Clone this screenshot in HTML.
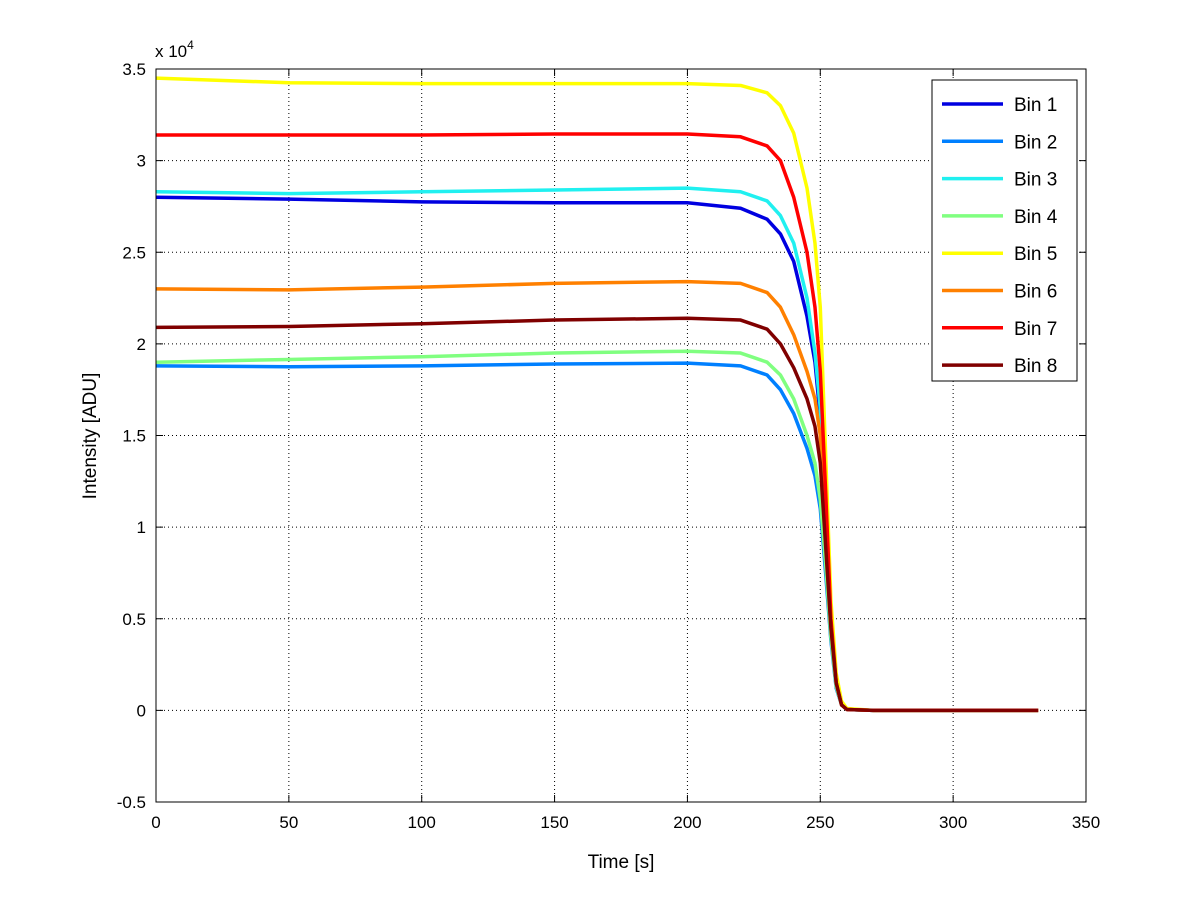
<!DOCTYPE html>
<html><head><meta charset="utf-8"><style>
body{margin:0;background:#fff}
svg{font-family:"Liberation Sans",sans-serif}
</style></head><body>
<svg id="chart" width="1200" height="901">
<rect x="0" y="0" width="1200" height="901" fill="#fff"/>
<g id="grid"></g>
<g id="series"></g>
<rect x="156" y="69" width="930" height="733" fill="none" stroke="#000" stroke-width="1"/>
<g id="ticks"></g>
<text x="155" y="57" font-size="17">x 10<tspan dy="-8" font-size="12">4</tspan></text>
<text x="621" y="868" font-size="19" text-anchor="middle">Time [s]</text>
<text transform="translate(96,436) rotate(-90)" font-size="19" text-anchor="middle">Intensity [ADU]</text>
<g id="legend"></g>
</svg>
<script>
const times=[0,50,100,150,200,220,230,235,240,245,248,250,252,254,256,258,260,270,332];
const bin1=[28000,27900,27750,27700,27700,27400,26800,26000,24500,21500,19000,16000,10000,5000,1500,300,50,0,0];
const bin2=[18800,18750,18800,18900,18950,18800,18300,17500,16200,14300,12800,11000,7500,3800,1200,300,50,0,0];
const bin3=[28300,28200,28300,28400,28500,28300,27800,27000,25500,22500,19500,16500,10000,5000,1500,300,50,0,0];
const bin4=[19000,19150,19300,19500,19600,19500,19000,18300,17000,15000,13500,11500,8000,4000,1300,300,50,0,0];
const bin5=[34500,34250,34200,34200,34200,34100,33700,33000,31500,28500,25500,22000,14000,6000,2000,500,100,0,0];
const bin6=[23000,22950,23100,23300,23400,23300,22800,22000,20500,18500,17000,15000,9500,4500,1500,300,50,0,0];
const bin7=[31400,31400,31400,31450,31450,31300,30800,30000,28000,25000,22000,18500,12000,5000,1500,300,50,0,0];
const bin8=[20900,20950,21100,21300,21400,21300,20800,20000,18700,17000,15500,13500,9000,4500,1500,300,50,0,0];
const seriesNames=["Bin 1","Bin 2","Bin 3","Bin 4","Bin 5","Bin 6","Bin 7","Bin 8"];
const xTicks=[0,50,100,150,200,250,300,350];
const yTicks=[-0.5,0,0.5,1,1.5,2,2.5,3,3.5];
const colors=["#0000e0","#0080ff","#20f0f0","#80ff80","#ffff00","#ff8000","#ff0000","#800000"];
const allSeries=[bin1,bin2,bin3,bin4,bin5,bin6,bin7,bin8];
const NS="http://www.w3.org/2000/svg";
const X=v=>156+v*(930/350);
const Y=v=>802-(v/1e4+0.5)*(733/4);
const grid=document.getElementById('grid'),ticks=document.getElementById('ticks');
function mk(tag,at,parent){const e=document.createElementNS(NS,tag);for(const k in at)e.setAttribute(k,at[k]);parent.appendChild(e);return e;}
xTicks.forEach(t=>{const x=X(t);
 if(t>0&&t<350){const g=mk('line',{x1:x,x2:x,y1:69,y2:802,stroke:'#000','stroke-dasharray':'1,3','stroke-width':1},grid);
 
 }
 mk('line',{x1:x,x2:x,y1:802,y2:795,stroke:'#000'},ticks);mk('line',{x1:x,x2:x,y1:69,y2:76,stroke:'#000'},ticks);
 const l=mk('text',{x:x,y:828,'font-size':17,'text-anchor':'middle'},ticks);l.textContent=t;
 
 });
yTicks.forEach(t=>{const y=Y(t*1e4);
 if(t>-0.5&&t<3.5){const g=mk('line',{x1:156,x2:1086,y1:y,y2:y,stroke:'#000','stroke-dasharray':'1,3','stroke-width':1},grid);
 
 }
 mk('line',{x1:156,x2:163,y1:y,y2:y,stroke:'#000'},ticks);mk('line',{x1:1086,x2:1079,y1:y,y2:y,stroke:'#000'},ticks);
 const l=mk('text',{x:146,y:y+6,'font-size':17,'text-anchor':'end'},ticks);l.textContent=t;
 
 });
const sg=document.getElementById('series');
allSeries.forEach((s,i)=>{const p=mk('polyline',{points:s.map((v,j)=>X(times[j])+','+Y(v)).join(' '),fill:'none',stroke:colors[i],'stroke-width':3.5,'stroke-linejoin':'round'},sg);
 
 });
const lg=document.getElementById('legend');
mk('rect',{x:932,y:80,width:145,height:301,fill:'#fff',stroke:'#000'},lg);
seriesNames.forEach((n,i)=>{const y=104+i*37.3;
 const ln=mk('line',{x1:942,x2:1003,y1:y,y2:y,stroke:colors[i],'stroke-width':3.5},lg);
 
 
 const t=mk('text',{x:1014,y:y+7,'font-size':19},lg);t.textContent=n;
 
 });
</script>
</body></html>
